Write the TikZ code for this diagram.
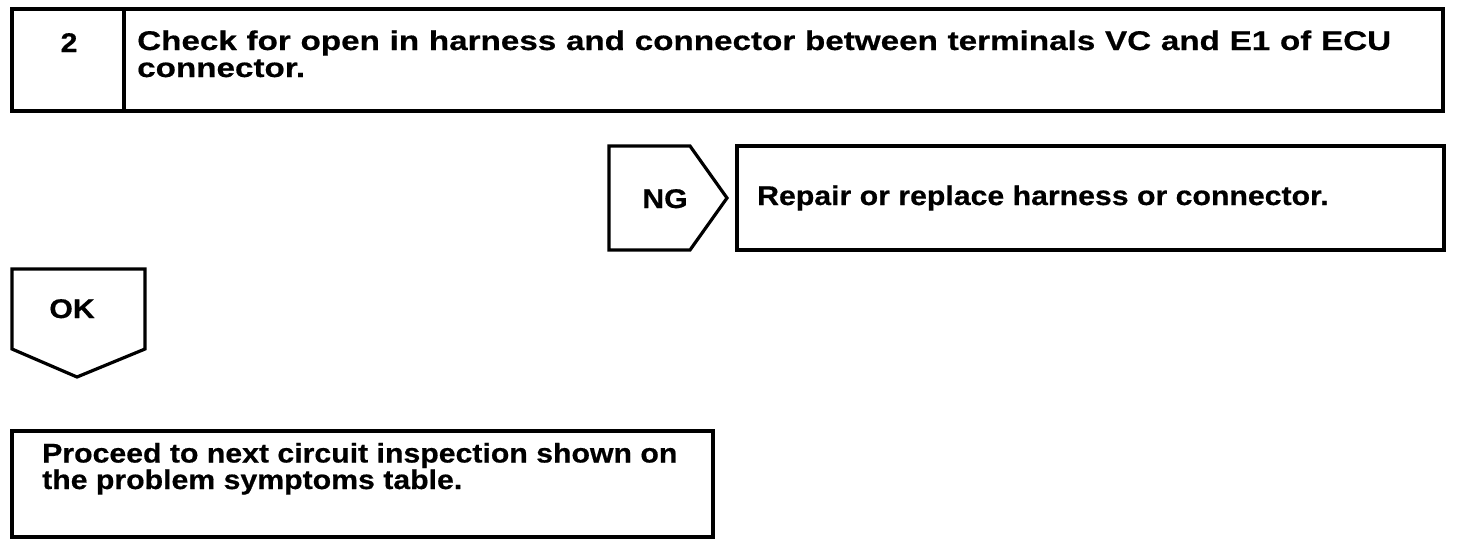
\documentclass[tikz,border=0pt]{standalone}
\usepackage{fontspec}
\setmainfont[FakeStretch = 1.12, BoldFeatures = {FakeBold = 0.6}]{Liberation Sans}
\newfontfamily\widefont[FakeStretch = 1.23, BoldFeatures = {FakeBold = 0.6}]{Liberation Sans}
\tikzset{frame/.style = {line width = 3.2pt, line join = miter},
  txt/.style = {font = \bfseries\fontsize{27}{26.5}\selectfont, inner sep = 0pt, align = left}}

\begin{document}
\begin{tikzpicture}[x = 1pt, y = -1pt]
\useasboundingbox (0,0) rectangle (1472,544);

% step box
\draw[frame] (12,9) rectangle (1443,111);
\draw[frame] (124,9) -- (124,111);
\node[txt, anchor = base] (num) at (69,52) {2};
\node[txt, font = \widefont\bfseries\fontsize{27}{27}\selectfont, align = justify, text width = 1254pt, anchor = base west] (check) at (137,50) {Check for open in harness and connector between terminals VC and E1 of ECU \mbox{connector.}};

% NG branch
\draw[frame] (609,146) -- (690,146) -- (727,198) -- (690,250) -- (609,250) -- cycle;
\node[txt, anchor = base] (ng) at (665,208) {NG};
\draw[frame] (737,146) rectangle (1444,250);
\node[txt, anchor = base west] (repair) at (757,205) {Repair or replace harness or connector.};

% OK branch
\draw[frame] (12,269) -- (145,269) -- (145,349) -- (77,377) -- (12,349) -- cycle;
\node[txt, anchor = base] (ok) at (72,318) {OK};
\draw[frame] (12,431) rectangle (713,537);
\node[txt, anchor = base west] (proceed) at (42,489) {Proceed to next circuit inspection shown on\\the problem symptoms table.};

\end{tikzpicture}
\end{document}
